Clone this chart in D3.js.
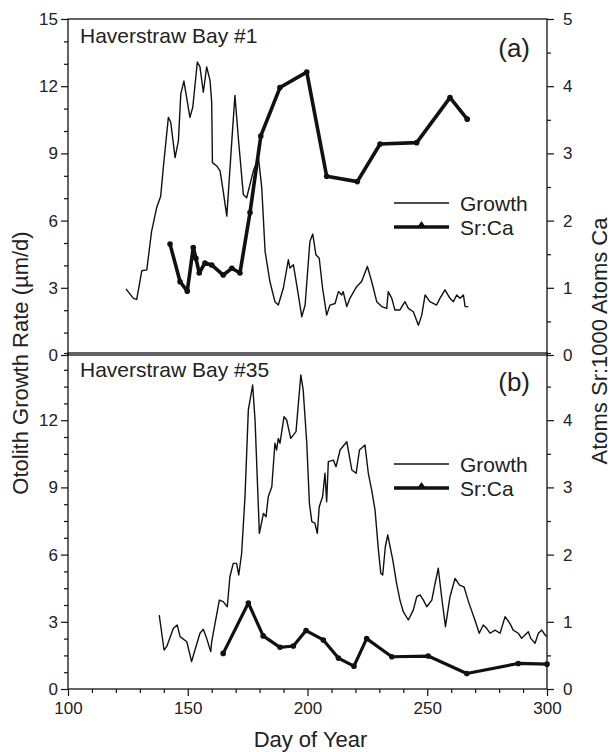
<!DOCTYPE html>
<html>
<head>
<meta charset="utf-8">
<script src="https://cdn.jsdelivr.net/npm/d3@7"></script>
<style>
  body { margin: 0; background: #fff; }
  svg text { font-family: "Liberation Sans", Arial, sans-serif; fill: #222; }
</style>
</head>
<body>
<div id="chart"></div>
<script>
'use strict';

// day of year, growth rate (um/d) -- Haverstraw Bay #1
var growthA = [
  [124.2,2.95],[127.3,2.53],[128.7,2.48],[130.8,3.76],[132.9,3.80],[134.9,5.52],[137.0,6.57],[138.7,7.09],
  [139.8,8.37],[141.9,10.61],[142.9,10.39],[144.7,8.81],[146.1,9.56],[147.1,11.66],[148.4,12.23],[150.9,10.61],
  [152.1,11.06],[154.0,13.08],[155.1,12.86],[156.5,11.73],[157.9,12.86],[159.3,12.26],[160.0,11.28],[160.3,8.59],
  [162.1,8.44],[163.5,8.22],[164.8,7.32],[166.3,6.20],[168.4,9.56],[169.7,11.59],[171.1,9.71],[173.2,7.17],
  [174.6,7.02],[177.4,8.22],[179.5,8.81],[180.9,7.47],[182.3,4.62],[184.3,3.28],[186.4,2.38],[187.8,2.23],
  [189.9,2.98],[192.0,4.25],[192.7,3.88],[194.1,4.03],[195.5,3.13],[197.6,1.71],[199.0,2.23],[201.0,5.07],
  [202.2,5.40],[203.5,4.48],[204.9,4.32],[206.3,2.98],[208.0,1.78],[209.4,2.23],[211.5,2.30],[212.9,2.83],
  [214.3,2.68],[214.9,2.83],[216.4,2.16],[217.7,2.53],[220.5,3.05],[222.6,3.28],[225.0,3.95],[226.8,3.28],
  [228.9,2.38],[231.0,2.16],[233.1,2.08],[233.7,2.83],[235.2,2.53],[236.5,2.01],[238.6,2.01],[240.7,2.38],
  [242.1,2.08],[244.2,1.93],[246.3,1.33],[247.7,1.78],[249.1,2.68],[251.1,2.38],[253.9,2.23],[255.3,2.53],
  [257.4,2.91],[259.5,2.53],[260.9,2.38],[262.3,2.68],[263.7,2.53],[265.1,2.68],[265.8,2.16],[267.1,2.16]
];

// day of year, atoms Sr per 1000 atoms Ca -- Haverstraw Bay #1
var srcaA = [
  [142.6,1.65],[146.8,1.09],[149.8,0.95],[152.3,1.60],[153.4,1.44],[154.8,1.22],[157.2,1.37],[160.0,1.34],
  [164.8,1.19],[168.4,1.29],[171.8,1.22],[176.0,2.12],[180.5,3.26],[188.5,3.98],[199.7,4.21],[208.0,2.66],
  [220.8,2.58],[230.3,3.14],[245.6,3.16],[259.5,3.83],[266.7,3.51]
];

// Haverstraw Bay #35
var growthB = [
  [138.1,3.30],[140.1,1.74],[141.2,1.89],[144.0,2.71],[145.6,2.86],[146.8,2.34],[149.6,2.11],[151.6,1.22],
  [153.0,1.74],[155.1,2.49],[156.5,2.67],[157.9,2.26],[159.6,1.67],[160.0,2.11],[161.4,2.93],[163.2,3.97],
  [164.8,3.90],[166.5,3.67],[167.6,5.01],[169.0,5.61],[170.4,5.61],[171.3,5.09],[172.5,6.06],[173.9,8.58],
  [175.3,12.46],[177.1,13.57],[178.1,12.01],[179.0,9.48],[179.9,6.95],[181.6,7.84],[182.7,7.69],[183.6,8.58],
  [185.1,9.03],[186.4,10.97],[187.1,10.67],[187.8,11.19],[188.5,10.97],[190.2,12.16],[191.3,12.01],[193.0,11.19],
  [195.2,11.49],[197.2,14.02],[198.2,13.35],[199.7,10.97],[200.8,8.29],[201.8,7.47],[203.1,7.40],[204.1,6.95],
  [204.9,8.14],[206.3,8.58],[207.3,9.63],[208.0,8.36],[208.7,10.15],[210.8,10.22],[211.9,9.92],[213.6,10.67],
  [216.4,11.04],[218.5,9.78],[220.3,9.63],[221.7,10.67],[224.0,10.89],[225.4,9.63],[226.8,8.88],[228.2,7.99],
  [229.6,6.21],[230.6,5.17],[231.4,5.09],[232.5,6.35],[233.5,6.88],[235.6,5.76],[237.2,4.72],[238.6,3.97],
  [240.0,3.45],[242.1,3.08],[244.2,3.53],[245.6,4.12],[247.0,4.20],[248.4,3.97],[249.8,3.67],[251.9,3.97],
  [253.0,4.57],[254.6,5.39],[256.0,4.12],[257.6,2.78],[259.5,4.12],[261.6,4.94],[263.5,4.64],[265.4,4.55],
  [267.2,3.90],[269.9,3.08],[271.7,2.49],[273.4,2.86],[274.8,2.71],[276.2,2.49],[278.3,2.63],[280.4,2.49],
  [282.5,3.23],[284.5,2.93],[285.9,2.63],[288.0,2.49],[289.4,2.26],[290.8,2.41],[292.2,2.56],[293.2,2.26],
  [295.0,2.04],[296.4,2.49],[297.8,2.63],[299.2,2.41],[300.0,2.34]
];

var srcaB = [
  [164.8,0.53],[175.3,1.28],[181.5,0.79],[188.5,0.62],[194.1,0.64],[199.4,0.87],[206.6,0.73],[212.9,0.46],
  [219.4,0.34],[224.7,0.75],[235.2,0.48],[250.4,0.49],[266.5,0.23],[288.0,0.38],[300.0,0.37]
];

var dayTicks = [100, 150, 200, 250, 300];
var titles = ["Haverstraw Bay #1", "Haverstraw Bay #35"];
var tags = ["(a)", "(b)"];
var legendLabels = ["Growth", "Sr:Ca"];

var W = 611, H = 752,
    LEFT = 68, RIGHT = 547,
    TOPS = [19, 353],
    PANEL_H = 336,
    INK = "#111";

var svg = d3.select("#chart").append("svg")
    .attr("width", W)
    .attr("height", H);

var x = d3.scaleLinear().domain([100, 300]).range([LEFT, RIGHT]);

var panels = [
    {growth: growthA, srca: srcaA, left: [0, 3, 6, 9, 12, 15], leftMinor: 1, right: [0, 1, 2, 3, 4, 5], legendY: 203},
    {growth: growthB, srca: srcaB, left: [0, 3, 6, 9, 12], leftMinor: 0.75, right: [0, 1, 2, 3, 4], legendY: 464}
];

function minorTicks(step, max, majors) {
    return d3.range(0, max + 1e-6, step).filter(function (v) {
        return majors.every(function (m) { return Math.abs(m - v) > 1e-6; });
    });
}

panels.forEach(function (p, i) {
    var top = TOPS[i],
        yL = d3.scaleLinear().domain([0, 15]).range([top + PANEL_H, top]),
        yR = d3.scaleLinear().domain([0, 5]).range([top + PANEL_H, top]),
        g = svg.append("g");

    // frame
    g.append("rect")
        .attr("x", LEFT).attr("y", top)
        .attr("width", RIGHT - LEFT).attr("height", PANEL_H)
        .attr("fill", "none").attr("stroke", INK).attr("stroke-width", 1.3);

    // left axis
    g.append("g").attr("transform", "translate(" + LEFT + ",0)")
        .call(d3.axisLeft(yL).tickValues(p.left).tickSize(7).tickPadding(3).tickFormat(d3.format("d")));
    g.append("g").attr("transform", "translate(" + LEFT + ",0)")
        .call(d3.axisLeft(yL).tickValues(minorTicks(p.leftMinor, 15, p.left)).tickSize(4).tickFormat(""));

    // right axis
    g.append("g").attr("transform", "translate(" + RIGHT + ",0)")
        .call(d3.axisRight(yR).tickValues(p.right).tickSize(7).tickPadding(9).tickFormat(d3.format("d")));
    g.append("g").attr("transform", "translate(" + RIGHT + ",0)")
        .call(d3.axisRight(yR).tickValues(minorTicks(0.5, 5, p.right)).tickSize(4).tickFormat(""));

    // growth
    g.append("path")
        .datum(p.growth)
        .attr("fill", "none")
        .attr("stroke", INK)
        .attr("stroke-width", 1.4)
        .attr("stroke-linejoin", "round")
        .attr("d", d3.line().x(function (d) { return x(d[0]); }).y(function (d) { return yL(d[1]); }));

    // Sr:Ca
    g.append("path")
        .datum(p.srca)
        .attr("fill", "none")
        .attr("stroke", INK)
        .attr("stroke-width", i === 0 ? 3.6 : 3.2)
        .attr("stroke-linejoin", "round")
        .attr("d", d3.line().x(function (d) { return x(d[0]); }).y(function (d) { return yR(d[1]); }));
    g.selectAll(".pt")
        .data(p.srca)
        .enter().append("circle")
        .attr("cx", function (d) { return x(d[0]); })
        .attr("cy", function (d) { return yR(d[1]); })
        .attr("r", 2.8)
        .attr("fill", INK);

    // panel texts
    g.append("text")
        .attr("x", 80).attr("y", top + 24)
        .style("font-size", "21px")
        .text(titles[i]);
    g.append("text")
        .attr("x", RIGHT - 17).attr("y", top + 38)
        .attr("text-anchor", "end")
        .style("font-size", "26px")
        .text(tags[i]);

    // legend
    var lg = g.append("g").attr("transform", "translate(394," + p.legendY + ")");
    lg.append("line").attr("x1", 0).attr("x2", 55).attr("y1", 0).attr("y2", 0)
        .attr("stroke", INK).attr("stroke-width", 1.4);
    lg.append("line").attr("x1", 0).attr("x2", 55).attr("y1", 24).attr("y2", 24)
        .attr("stroke", INK).attr("stroke-width", 3.6);
    lg.append("path").attr("d", "M24,23 L27.5,18 L31,23 Z").attr("fill", INK);
    lg.selectAll("text")
        .data(legendLabels)
        .enter().append("text")
        .attr("x", 66)
        .attr("y", function (d, k) { return 8 + k * 24; })
        .style("font-size", "21px")
        .text(function (d) { return d; });
});

// bottom axis on lower panel
var bottom = TOPS[1] + PANEL_H;
svg.append("g").attr("transform", "translate(0," + bottom + ")")
    .call(d3.axisBottom(x).tickValues(dayTicks).tickSize(7).tickPadding(6));
svg.append("g").attr("transform", "translate(0," + bottom + ")")
    .call(d3.axisBottom(x).tickValues(d3.range(110, 300, 10).filter(function (d) { return d % 50 !== 0; }))
        .tickSize(4).tickFormat(""));

svg.selectAll(".domain").remove();
svg.selectAll(".tick line").attr("stroke", INK).attr("stroke-width", 1.2);
svg.selectAll(".tick text").style("font-size", "17px").attr("fill", "#222");

// axis titles
svg.append("text")
    .attr("transform", "translate(28,363) rotate(-90)")
    .attr("text-anchor", "middle")
    .style("font-size", "22px")
    .text("Otolith Growth Rate (µm/d)");
svg.append("text")
    .attr("transform", "translate(607,341) rotate(-90)")
    .attr("text-anchor", "middle")
    .style("font-size", "22px")
    .text("Atoms Sr:1000 Atoms Ca");
svg.append("text")
    .attr("x", (LEFT + RIGHT) / 2 + 3).attr("y", 747)
    .attr("text-anchor", "middle")
    .style("font-size", "22px")
    .text("Day of Year");
</script>
</body>
</html>
